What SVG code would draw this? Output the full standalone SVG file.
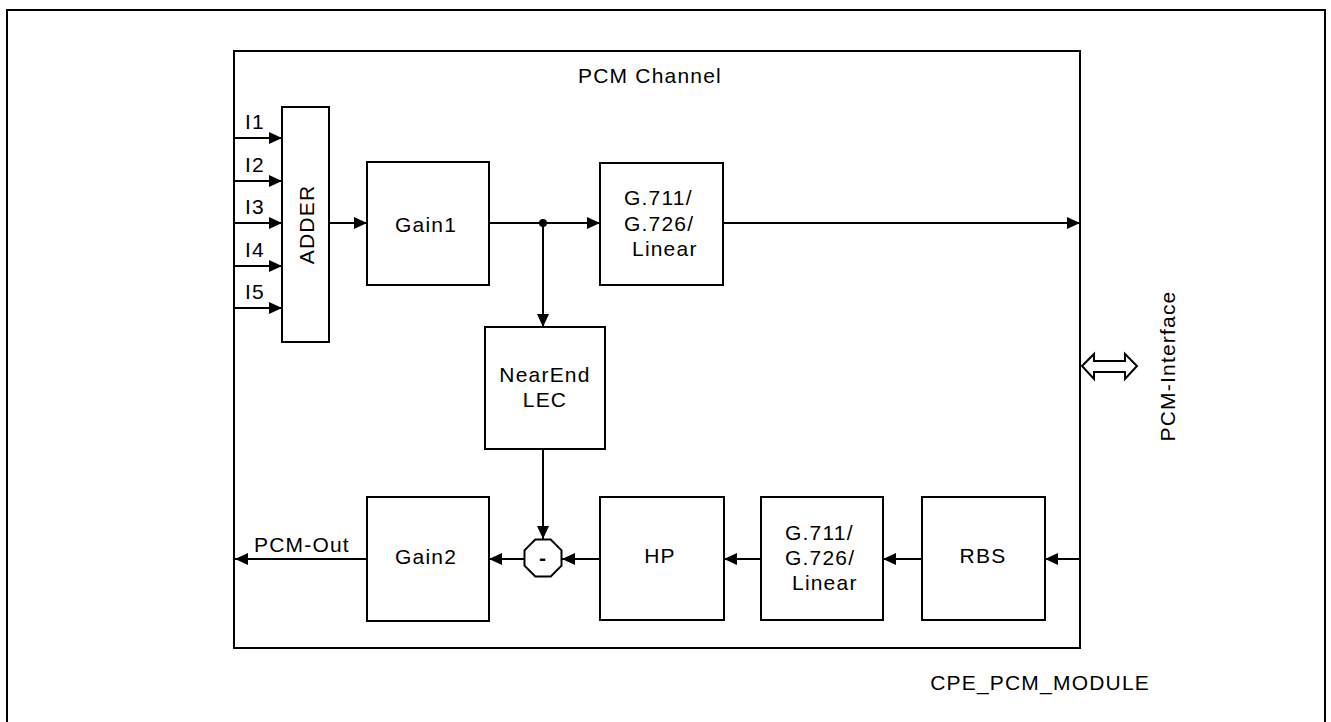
<svg xmlns="http://www.w3.org/2000/svg" width="1331" height="722" viewBox="0 0 1331 722">
<style>
.box{fill:#fff;stroke:#000;stroke-width:2}
.ln{fill:none;stroke:#000;stroke-width:2}
text{font-family:"Liberation Sans",Arial,sans-serif;fill:#000;font-size:21px;letter-spacing:1.2px}
.c{text-anchor:middle}
</style>
<defs>
<marker id="ah" markerWidth="13" markerHeight="12" refX="13" refY="6" orient="auto" markerUnits="userSpaceOnUse">
<path d="M0,0 L13,6 L0,12 Z" fill="#000"/>
</marker>
</defs>
<rect width="1331" height="722" fill="#fff"/>
<path d="M7,730 L7,10 L1325,10 L1325,730" class="ln"/>
<g id="channel"><rect x="234" y="51" width="846" height="597" class="box"/>
<text x="650" y="83" class="c" font-size="22">PCM  Channel</text></g>
<g id="adder"><rect x="282" y="107" width="47" height="235" class="box"/>
<text transform="translate(314,224.5) rotate(-90)" class="c" font-size="22">ADDER</text></g>
<g id="gain1"><rect x="367" y="162" width="122" height="123" class="box"/><text x="426" y="232" class="c" font-size="22">Gain1</text></g>
<g id="g711top"><rect x="600" y="163" width="123" height="122" class="box"/>
<text x="624" y="205">G.711/</text><text x="624" y="231">G.726/</text><text x="632" y="256">Linear</text></g>
<g id="nearend"><rect x="485" y="327" width="120" height="122" class="box"/>
<text x="545" y="382" class="c">NearEnd</text><text x="545" y="407" class="c">LEC</text></g>
<g id="gain2"><rect x="367" y="497" width="122" height="124" class="box"/><text x="426" y="564" class="c" font-size="22">Gain2</text></g>
<g id="sum"><polygon points="535.3,539.5 550.7,539.5 561.5,550.3 561.5,565.7 550.7,576.5 535.3,576.5 524.5,565.7 524.5,550.3" class="box"/>
<text x="543" y="565" class="c" font-weight="bold" font-size="18">-</text></g>
<g id="hp"><rect x="600" y="497" width="124" height="123" class="box"/><text x="660" y="563" class="c">HP</text></g>
<g id="g711bot"><rect x="761" y="497" width="122" height="123" class="box"/>
<text x="785" y="540">G.711/</text><text x="785" y="565">G.726/</text><text x="792" y="590">Linear</text></g>
<g id="rbs"><rect x="922" y="497" width="123" height="123" class="box"/><text x="983" y="563" class="c">RBS</text></g>
<g id="inputs">
<text x="245" y="129">I1</text><text x="245" y="172">I2</text><text x="245" y="214">I3</text><text x="245" y="257">I4</text><text x="245" y="299">I5</text>
</g>
<g id="connectors">
<line x1="234" y1="138" x2="282" y2="138" class="ln" marker-end="url(#ah)"/>
<line x1="234" y1="181" x2="282" y2="181" class="ln" marker-end="url(#ah)"/>
<line x1="234" y1="223" x2="282" y2="223" class="ln" marker-end="url(#ah)"/>
<line x1="234" y1="266" x2="282" y2="266" class="ln" marker-end="url(#ah)"/>
<line x1="234" y1="308" x2="282" y2="308" class="ln" marker-end="url(#ah)"/>
<line x1="329" y1="223" x2="367" y2="223" class="ln" marker-end="url(#ah)"/>
<line x1="489" y1="223" x2="600" y2="223" class="ln" marker-end="url(#ah)"/>
<circle cx="543" cy="223" r="4" fill="#000"/>
<line x1="543" y1="223" x2="543" y2="327" class="ln" marker-end="url(#ah)"/>
<line x1="723" y1="223" x2="1080" y2="223" class="ln" marker-end="url(#ah)"/>
<line x1="543" y1="449" x2="543" y2="539" class="ln" marker-end="url(#ah)"/>
<line x1="1080" y1="559" x2="1045" y2="559" class="ln" marker-end="url(#ah)"/>
<line x1="922" y1="559" x2="883" y2="559" class="ln" marker-end="url(#ah)"/>
<line x1="761" y1="559" x2="724" y2="559" class="ln" marker-end="url(#ah)"/>
<line x1="600" y1="559" x2="562" y2="559" class="ln" marker-end="url(#ah)"/>
<line x1="524" y1="559" x2="489" y2="559" class="ln" marker-end="url(#ah)"/>
<line x1="367" y1="559" x2="235" y2="559" class="ln" marker-end="url(#ah)"/>
<path d="M1082,366 L1094,354 L1094,361 L1125,361 L1125,354 L1137,366 L1125,379 L1125,372 L1094,372 L1094,379 Z" fill="#fff" stroke="#000" stroke-width="2"/>
</g>
<text x="254" y="552">PCM-Out</text>
<text transform="translate(1175,366) rotate(-90)" class="c">PCM-Interface</text>
<text x="1150" y="690" font-size="17" text-anchor="end" letter-spacing="0.5">CPE_PCM_MODULE</text>
</svg>
